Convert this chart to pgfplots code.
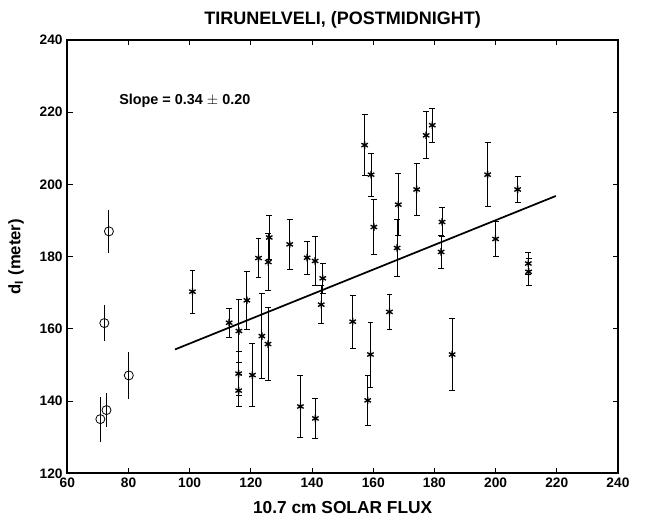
\documentclass[border=0pt]{standalone}
\usepackage{pgfplots}
\pgfplotsset{compat=1.18}
\usepackage{fontspec}
\setmainfont{Liberation Sans}

\begin{document}
\begin{tikzpicture}
\begin{axis}[
  scale only axis,
  width=413pt, height=325pt,
  xmin=60, xmax=240, ymin=120, ymax=240,
  xtick={60,80,...,240}, ytick={120,140,...,240},
  tick align=inside, major tick length=4pt,
  tick style={line width=0.8pt,black},
  axis line style={line width=1.6pt},
  /pgf/number format/assume math mode=true,
  ticklabel style={font=\fontsize{10.3}{11}\selectfont\bfseries},
  title={TIRUNELVELI, (POSTMIDNIGHT)},
  title style={font=\fontsize{13.5}{15}\selectfont\bfseries, yshift=-1pt},
  xlabel={10.7 cm SOLAR FLUX},
  xlabel style={font=\fontsize{13}{15}\selectfont\bfseries, yshift=-3.5pt},
  ylabel={d\textsubscript{I} (meter)},
  ylabel style={font=\fontsize{12.5}{14}\selectfont\bfseries, yshift=5pt},
  clip=false,
]
% regression line
\addplot[black, line width=1.3pt] coordinates {(95.2,154.3) (219.7,196.8)};

% stars with error bars
\addplot[only marks, black, mark=asterisk, mark size=2.8pt, mark options={line width=1pt},
  error bars/.cd, y dir=both, y explicit,
  error bar style={line width=0.7pt, black},
  error mark=-,
  error mark options={rotate=90, mark size=2.2pt, line width=0.7pt}]
coordinates {
(100.9,170.3) +- (0,6)
(112.9,161.7) +- (0,4)
(116.1,159.4) +- (0,8.7)
(116.0,147.6) +- (0,6)
(116.0,142.9) +- (0,4.5)
(118.7,167.9) +- (0,8)
(120.5,147.2) +- (0,8.7)
(122.5,179.6) +- (0,5.3)
(123.6,158.0) +- (0,11.8)
(125.6,155.8) +- (0,10.2)
(125.7,178.5) +- (0,7.8)
(126.0,185.3) +- (0,6)
(132.7,183.4) +- (0,6.9)
(136.2,138.5) +- (0,8.5)
(138.4,179.7) +- (0,4.5)
(141.0,178.8) +- (0,6.7)
(141.1,135.2) +- (0,5.5)
(143.0,166.7) +- (0,5.2)
(143.5,174.0) +- (0,4.2)
(153.3,162.0) +- (0,7.3)
(157.2,210.9) +- (0,8.4)
(158.2,140.2) +- (0,6.9)
(159.1,152.9) +- (0,9)
(159.3,202.7) +- (0,6)
(160.2,188.2) +- (0,7.5)
(165.3,164.7) +- (0,4.9)
(167.8,182.4) +- (0,8)
(168.2,194.4) +- (0,8.5)
(174.2,198.6) +- (0,7.2)
(177.3,213.6) +- (0,6.5)
(179.3,216.4) +- (0,4.7)
(182.2,181.3) +- (0,4.6)
(182.5,189.6) +- (0,4)
(185.8,152.9) +- (0,10)
(197.4,202.7) +- (0,8.8)
(200.0,184.9) +- (0,4.8)
(207.2,198.6) +- (0,3.5)
(210.7,178.1) +- (0,3)
(210.8,175.8) +- (0,3.8)
};

% circles with error bars (no caps)
\addplot[only marks, black, mark=o, mark size=3.4pt, mark options={line width=0.6pt},
  error bars/.cd, y dir=both, y explicit, error mark=none,
  error bar style={line width=0.7pt, black}]
coordinates {
(70.8,135.0) +- (0,6.2)
(72.1,161.6) +- (0,5)
(72.8,137.5) +- (0,4.7)
(73.6,187.0) +- (0,6)
(80.1,147.1) +- (0,6.5)
};

\node[anchor=west, font=\fontsize{10.8}{12}\selectfont\bfseries, inner sep=0pt]
  at (axis cs:76.9,223.3) {Slope = 0.34 $\pm$ 0.20};
\end{axis}
\pgfresetboundingbox
\path[use as bounding box] (-50.5pt,-36pt) rectangle (433.3pt,355pt);
\end{tikzpicture}
\end{document}
